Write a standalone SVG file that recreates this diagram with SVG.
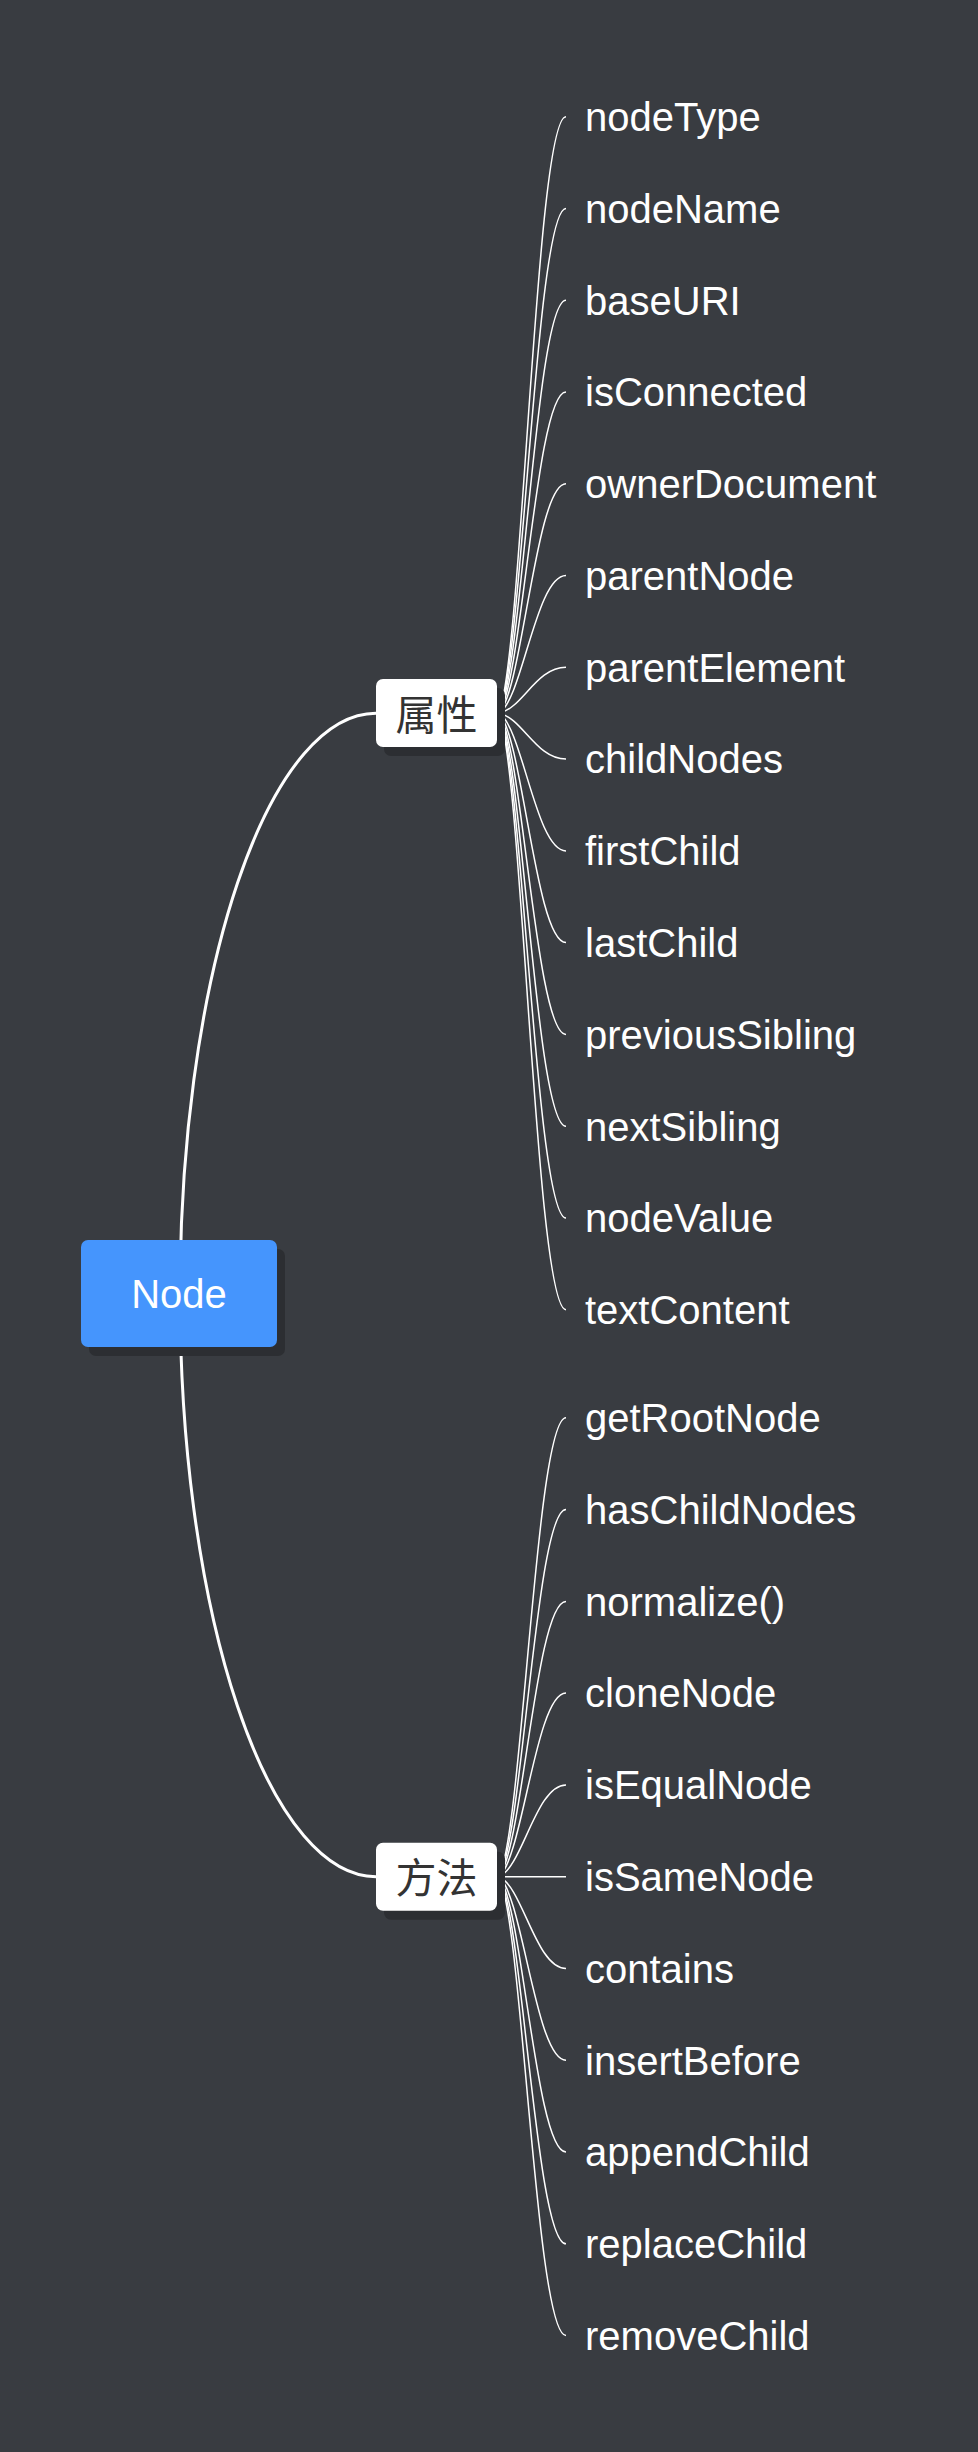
<svg xmlns="http://www.w3.org/2000/svg" width="978" height="2452" viewBox="0 0 978 2452">
<style>
.bg{fill:#393c41}
.main{fill:none;stroke:#ffffff;stroke-width:3}
.sub{fill:none;stroke:#ffffff;stroke-width:1.5}
.shadow{fill:#2c2e32}
.rootbox{fill:#4595fd}
.box{fill:#ffffff}
.roottext{font-family:"Liberation Sans",Arial,sans-serif;font-size:40px;fill:#ffffff;text-anchor:middle}
.cjk{font-family:"Noto Sans CJK SC","Liberation Sans",sans-serif;font-size:41px;fill:#333333;text-anchor:middle;dominant-baseline:central}
.leaf{font-family:"Liberation Sans",Arial,sans-serif;font-size:40px;fill:#ffffff}
</style>
<rect class="bg" x="0" y="0" width="978" height="2452"/>
<g id="connectors">
<path class="main" d="M180 1294 A196 581 0 0 1 376 713.2"/>
<path class="main" d="M180 1294 A196 582.7 0 0 0 376 1876.7"/>
<path class="sub" d="M499 713.2 C522.5 653.5 535.9 116.7 566 116.7"/>
<path class="sub" d="M499 713.2 C522.5 662.7 535.9 208.5 566 208.5"/>
<path class="sub" d="M499 713.2 C522.5 671.9 535.9 300.2 566 300.2"/>
<path class="sub" d="M499 713.2 C522.5 681.1 535.9 392 566 392"/>
<path class="sub" d="M499 713.2 C522.5 690.3 535.9 483.8 566 483.8"/>
<path class="sub" d="M499 713.2 C522.5 699.4 535.9 575.6 566 575.6"/>
<path class="sub" d="M499 713.2 C522.5 708.6 535.9 667.3 566 667.3"/>
<path class="sub" d="M499 713.2 C522.5 717.8 535.9 759.1 566 759.1"/>
<path class="sub" d="M499 713.2 C522.5 727 535.9 850.9 566 850.9"/>
<path class="sub" d="M499 713.2 C522.5 736.1 535.9 942.6 566 942.6"/>
<path class="sub" d="M499 713.2 C522.5 745.3 535.9 1034.4 566 1034.4"/>
<path class="sub" d="M499 713.2 C522.5 754.5 535.9 1126.2 566 1126.2"/>
<path class="sub" d="M499 713.2 C522.5 763.7 535.9 1218 566 1218"/>
<path class="sub" d="M499 713.2 C522.5 772.9 535.9 1309.7 566 1309.7"/>
<path class="sub" d="M499 1876.7 C522.5 1830.8 535.9 1417.8 566 1417.8"/>
<path class="sub" d="M499 1876.7 C522.5 1840 535.9 1509.6 566 1509.6"/>
<path class="sub" d="M499 1876.7 C522.5 1849.2 535.9 1601.4 566 1601.4"/>
<path class="sub" d="M499 1876.7 C522.5 1858.3 535.9 1693.1 566 1693.1"/>
<path class="sub" d="M499 1876.7 C522.5 1867.5 535.9 1784.9 566 1784.9"/>
<path class="sub" d="M499 1876.7 L566 1876.7"/>
<path class="sub" d="M499 1876.7 C522.5 1885.9 535.9 1968.5 566 1968.5"/>
<path class="sub" d="M499 1876.7 C522.5 1895.1 535.9 2060.2 566 2060.2"/>
<path class="sub" d="M499 1876.7 C522.5 1904.2 535.9 2152 566 2152"/>
<path class="sub" d="M499 1876.7 C522.5 1913.4 535.9 2243.8 566 2243.8"/>
<path class="sub" d="M499 1876.7 C522.5 1922.6 535.9 2335.5 566 2335.5"/>
</g>
<g id="node-root">
<rect class="shadow" x="89" y="1249" width="196" height="107" rx="7"/>
<rect class="rootbox" x="81" y="1240" width="196" height="107" rx="7"/>
<text class="roottext" x="179" y="1307.5">Node</text>
</g>
<g id="node-props">
<rect class="shadow" x="384" y="688" width="121" height="68" rx="7"/>
<rect class="box" x="376" y="679" width="121" height="68" rx="7"/>
<text class="cjk" x="436.5" y="711.5">属性</text>
</g>
<g id="node-methods">
<rect class="shadow" x="384" y="1851.7" width="121" height="68" rx="7"/>
<rect class="box" x="376" y="1842.7" width="121" height="68" rx="7"/>
<text class="cjk" x="436.5" y="1875">方法</text>
</g>
<g id="props-leaves">
<text id="p-nodeType" class="leaf" x="585" y="131">nodeType</text>
<text id="p-nodeName" class="leaf" x="585" y="222.8">nodeName</text>
<text id="p-baseURI" class="leaf" x="585" y="314.5">baseURI</text>
<text id="p-isConnected" class="leaf" x="585" y="406.3">isConnected</text>
<text id="p-ownerDocument" class="leaf" x="585" y="498.1">ownerDocument</text>
<text id="p-parentNode" class="leaf" x="585" y="589.9">parentNode</text>
<text id="p-parentElement" class="leaf" x="585" y="681.6">parentElement</text>
<text id="p-childNodes" class="leaf" x="585" y="773.4">childNodes</text>
<text id="p-firstChild" class="leaf" x="585" y="865.2">firstChild</text>
<text id="p-lastChild" class="leaf" x="585" y="956.9">lastChild</text>
<text id="p-previousSibling" class="leaf" x="585" y="1048.7">previousSibling</text>
<text id="p-nextSibling" class="leaf" x="585" y="1140.5">nextSibling</text>
<text id="p-nodeValue" class="leaf" x="585" y="1232.3">nodeValue</text>
<text id="p-textContent" class="leaf" x="585" y="1324">textContent</text>
</g>
<g id="methods-leaves">
<text id="m-getRootNode" class="leaf" x="585" y="1432.1">getRootNode</text>
<text id="m-hasChildNodes" class="leaf" x="585" y="1523.9">hasChildNodes</text>
<text id="m-normalize" class="leaf" x="585" y="1615.7">normalize()</text>
<text id="m-cloneNode" class="leaf" x="585" y="1707.4">cloneNode</text>
<text id="m-isEqualNode" class="leaf" x="585" y="1799.2">isEqualNode</text>
<text id="m-isSameNode" class="leaf" x="585" y="1891">isSameNode</text>
<text id="m-contains" class="leaf" x="585" y="1982.8">contains</text>
<text id="m-insertBefore" class="leaf" x="585" y="2074.5">insertBefore</text>
<text id="m-appendChild" class="leaf" x="585" y="2166.3">appendChild</text>
<text id="m-replaceChild" class="leaf" x="585" y="2258.1">replaceChild</text>
<text id="m-removeChild" class="leaf" x="585" y="2349.8">removeChild</text>
</g>
</svg>
